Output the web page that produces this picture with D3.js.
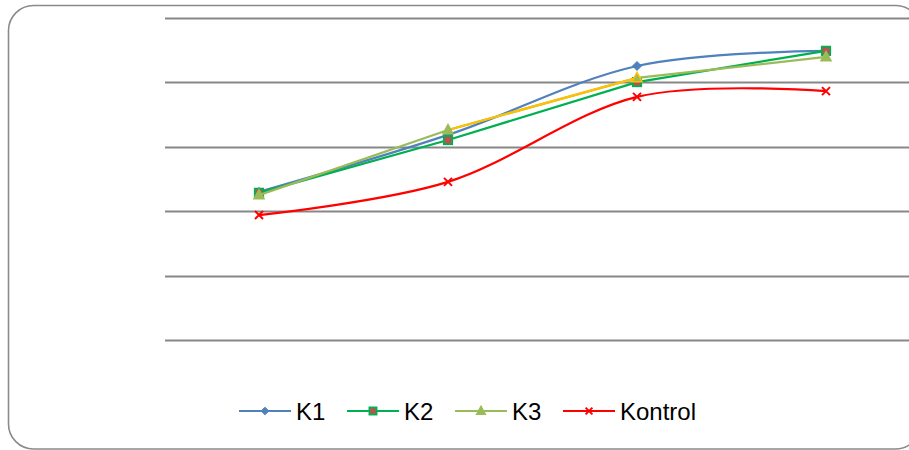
<!DOCTYPE html>
<html>
<head>
<meta charset="utf-8">
<script src="https://cdn.jsdelivr.net/npm/d3@7"></script>
<style>
  html, body { margin: 0; padding: 0; background: #fff; }
  svg { display: block; }
</style>
</head>
<body>
<svg id="chart" width="909" height="450"></svg>
<script>
// Measurement points (x categories) and the four series
const categories = ["1", "2", "3", "4"];
const k1 = [46.0, 63.7, 85.1, 89.8];
const k2 = [45.7, 62.1, 80.1, 89.8];
const k3 = [45.0, 65.2, 81.4, 87.9];
const kontrol = [38.8, 49.1, 75.5, 77.3];
const seriesNames = ["K1", "K2", "K3", "Kontrol"];
const yTicks = [0, 20, 40, 60, 80, 100];

const svg = d3.select("#chart");

// Rounded chart frame (runs past the right edge of the page)
svg.append("rect")
  .attr("x", 8.5).attr("y", 5.5)
  .attr("width", 912).attr("height", 443.5)
  .attr("rx", 25).attr("ry", 25)
  .attr("fill", "#fff")
  .attr("stroke", "#8a8a8a")
  .attr("stroke-width", 1.6);

const x = d3.scaleBand().domain(categories).range([164.5, 920.5]);
const xc = c => x(c) + x.bandwidth() / 2;
const y = d3.scaleLinear().domain([0, 100]).range([340, 18]);

// Horizontal gridlines
svg.append("g").selectAll("line").data(yTicks).join("line")
  .attr("x1", 165).attr("x2", 925)
  .attr("y1", d => Math.round(y(d)) + 0.5).attr("y2", d => Math.round(y(d)) + 0.5)
  .attr("stroke", "#878787").attr("stroke-width", 2);

const smooth = d3.curveCardinal.tension(0);
const series = [
  { name: "K1", values: k1, color: "#4F81BD", curve: smooth, marker: "diamond" },
  { name: "K2", values: k2, color: "#00B050", curve: d3.curveLinear, marker: "square" },
  { name: "K3", values: k3, color: "#9BBB59", curve: d3.curveLinear, marker: "triangle" },
  { name: "Kontrol", values: kontrol, color: "#FF0000", curve: smooth, marker: "x" }
];

function pts(s) { return s.values.map((v, i) => [xc(categories[i]), y(v)]); }

function drawMarker(g, type, cx, cy, s, color, scale) {
  const k = scale || 1;
  if (type === "diamond") {
    const r = 4.5 * k;
    g.append("path")
      .attr("d", `M${cx},${cy - r}L${cx + r},${cy}L${cx},${cy + r}L${cx - r},${cy}Z`)
      .attr("fill", color).attr("stroke", color).attr("stroke-width", 1);
  } else if (type === "square") {
    const r = 4.2 * k;
    g.append("rect")
      .attr("x", cx - r).attr("y", cy - r).attr("width", 2 * r).attr("height", 2 * r)
      .attr("fill", "#C0504D").attr("stroke", "#00B050").attr("stroke-width", 1.8);
  } else if (type === "triangle") {
    const r = 5 * k;
    g.append("path")
      .attr("d", `M${cx},${cy - r * 1.1}L${cx + r},${cy + r * 0.75}L${cx - r},${cy + r * 0.75}Z`)
      .attr("fill", "#9BBB59").attr("stroke", s.yellowStroke || "#9BBB59").attr("stroke-width", 1.5);
  } else if (type === "x") {
    const r = 4 * k;
    g.append("path")
      .attr("d", `M${cx - r},${cy - r}L${cx + r},${cy + r}M${cx - r},${cy + r}L${cx + r},${cy - r}`)
      .attr("stroke", color).attr("stroke-width", 2).attr("fill", "none");
  }
}

const plot = svg.append("g");
series.forEach(s => {
  const p = pts(s);
  const line = d3.line().curve(s.curve);
  plot.append("path")
    .attr("d", line(p))
    .attr("fill", "none")
    .attr("stroke", s.color)
    .attr("stroke-width", 2.2);
  // K3: the segment into the third point is highlighted in amber
  if (s.name === "K3") {
    plot.append("path")
      .attr("d", line([p[1], p[2]]))
      .attr("fill", "none").attr("stroke", "#FFC000").attr("stroke-width", 2.2);
  }
  p.forEach((q, i) => {
    const opt = Object.assign({}, s);
    if (s.name === "K3" && i === 2) opt.yellowStroke = "#FFC000";
    drawMarker(plot, s.marker, q[0], q[1], opt, s.color, 1);
  });
});

// Legend
const legendX = [239, 347, 455, 563];
const legY = 411;
const legend = svg.append("g");
series.forEach((s, i) => {
  const x0 = legendX[i];
  legend.append("line")
    .attr("x1", x0).attr("x2", x0 + 52)
    .attr("y1", legY).attr("y2", legY)
    .attr("stroke", s.color).attr("stroke-width", 2.2);
  drawMarker(legend, s.marker, x0 + 26, legY, s, s.color, 0.85);
  legend.append("text")
    .attr("x", x0 + 57).attr("y", legY + 8.5)
    .attr("font-family", "'Liberation Sans', Arial, sans-serif")
    .attr("font-size", 24)
    .attr("fill", "#000")
    .text(seriesNames[i]);
});
</script>
</body>
</html>
